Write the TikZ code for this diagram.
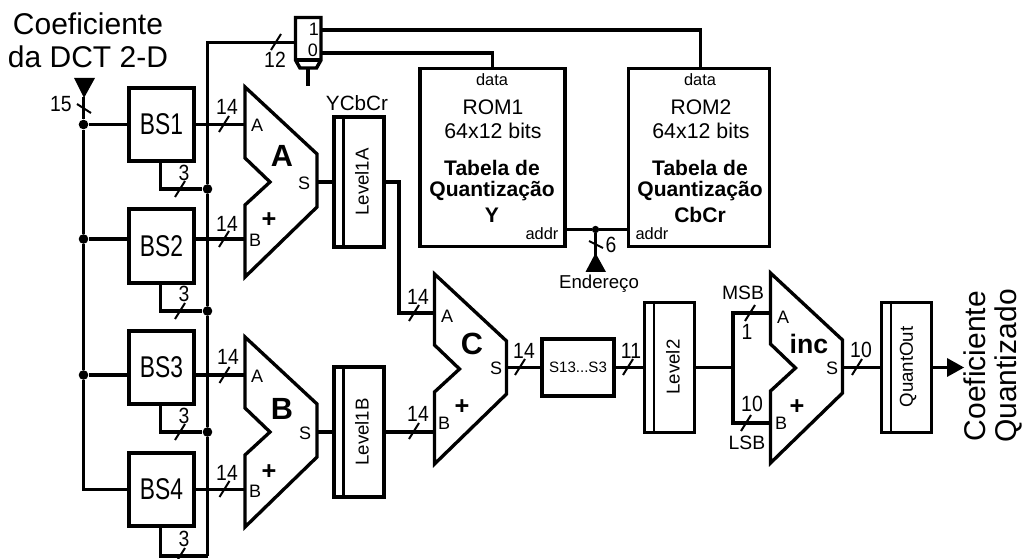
\documentclass[tikz,border=0pt]{standalone}
\usepackage{fontspec}
\setmainfont{Liberation Sans}
\newcommand{\fsz}[1]{\fontsize{#1}{#1}\selectfont}
\newcommand{\nar}[2][.88]{\scalebox{#1}[1]{#2}}
\tikzset{
  wire/.style={line width=2.4pt,line join=miter},
  thick wire/.style={line width=2.5pt},
  boxnode/.style={draw,line width=2.6pt,rectangle,inner sep=0pt,align=center,font=\fsz{17.2}},
  regnode/.style={draw,line width=2.5pt,rectangle,inner sep=0pt},
  regtext/.style={rotate=90,inner sep=0pt,font=\fsz{14}},
  lbl/.style={inner sep=0pt,font=\fsz{14.5}},
  num/.style={inner sep=0pt,font=\fsz{16.5}},
  port/.style={inner sep=0pt,font=\fsz{13.5}},
  dotnode/.style={circle,fill=black,draw=none,minimum size=7.2pt,inner sep=0pt},
  bigbold/.style={inner sep=0pt,font=\fsz{23}\bfseries},
  plusmark/.style={inner sep=0pt,font=\fsz{19}\bfseries},
  arrowhead/.style={fill=black,draw=none},
  adder/.pic={
    \draw[line width=2.5pt,miter limit=10] (0,0) -- (72,67) -- (72,120) -- (0,190) -- (0,118) -- (25,95) -- (0,71) -- cycle;
    \coordinate (-W) at (0,0);
    \coordinate (-E) at (72,0);
  },
  bustick/.pic={
    \draw[line width=1.5pt] (-5,8) -- (5,-8);
  }
}
\begin{document}
\begin{tikzpicture}[x=0.75pt,y=-0.75pt]
\useasboundingbox (0,0) rectangle (1024,559);

% barrel shifters
\node[boxnode,minimum width=48.75pt,minimum height=54.75pt,font=\fsz{22.5}] (bs1) at (161.5,124.5) {\nar[.76]{BS1}};
\node[boxnode,minimum width=48.75pt,minimum height=55.5pt,font=\fsz{22.5}] (bs2) at (161.5,246) {\nar[.76]{BS2}};
\node[boxnode,minimum width=48.75pt,minimum height=54.75pt,font=\fsz{22.5}] (bs3) at (161.5,367.5) {\nar[.76]{BS3}};
\node[boxnode,minimum width=48.75pt,minimum height=54.75pt,font=\fsz{22.5}] (bs4) at (161.5,489.5) {\nar[.76]{BS4}};

% adders
\pic (adA) at (245,87) {adder};
\pic (adB) at (245,337) {adder};
\pic (adC) at (434.5,274) {adder};
\pic (adI) at (770.5,273) {adder};

% registers
\node[regnode,minimum width=37.5pt,minimum height=97.5pt] (l1a) at (359,182) {};
\node[regnode,minimum width=37.5pt,minimum height=97.5pt] (l1b) at (359,432) {};
\node[regnode,minimum width=37.5pt,minimum height=97.5pt] (l2) at (669.5,367.5) {};
\node[regnode,minimum width=37.5pt,minimum height=97.5pt] (qo) at (906.5,367.5) {};
\foreach \r in {l1a,l1b,l2,qo}
  \draw[line width=2pt] ([xshift=8.4pt]\r.north west) -- ([xshift=8.4pt]\r.south west);
\node[regtext] (t1a) at (362,182) {Level1A};
\node[regtext] (t1b) at (362,432) {Level1B};
\node[regtext] (t2) at (673,367) {Level2};
\node[regtext] (tqo) at (908,367) {QuantOut};
\node[lbl,font=\fsz{15.5}] (ycbcr) at (357,103) {YCbCr};

% ROMs
\node[boxnode,minimum width=108.5pt,minimum height=133.5pt] (rom1) at (492.5,157.5) {};
\node[boxnode,minimum width=106pt,minimum height=133.5pt] (rom2) at (699,157.5) {};
\node[lbl,font=\fsz{12.3}] (d1) at (492,80) {data};
\node[lbl,font=\fsz{12.3}] (d2) at (700,80) {data};
\node[lbl,font=\fsz{15.8}] (r1a) at (493,107) {ROM1};
\node[lbl,font=\fsz{15.8}] (r2a) at (701,107) {ROM2};
\node[lbl,font=\fsz{16}] (r1b) at (493,131) {64x12 bits};
\node[lbl,font=\fsz{16}] (r2b) at (701,131) {64x12 bits};
\node[lbl,font=\fsz{15.8}\bfseries,align=center] (r1c) at (492,168) {Tabela de};
\node[lbl,font=\fsz{15.8}\bfseries] (r1d) at (492,191) {Quantização};
\node[lbl,font=\fsz{15.8}\bfseries] (r1e) at (492,215) {Y};
\node[lbl,font=\fsz{15.8}\bfseries] (r2c) at (700,168) {Tabela de};
\node[lbl,font=\fsz{15.8}\bfseries] (r2d) at (700,191) {Quantização};
\node[lbl,font=\fsz{15.8}\bfseries] (r2e) at (700,215) {CbCr};
\node[lbl,font=\fsz{12.3}] (a1) at (542,234) {addr};
\node[lbl,font=\fsz{12.3}] (a2) at (652,234) {addr};

% S13...S3
\node[boxnode,minimum width=54pt,minimum height=42.75pt,font=\fsz{11.3}] (sh) at (578,367.5) {S13...S3};

% mux
\coordinate (muxo1) at (322,30);
\coordinate (muxo0) at (322,53);
\coordinate (muxsel) at (308,86);
\draw[line width=2.6pt,miter limit=10] (295.5,17.5) -- (321,17.5) -- (321,60) -- (316.5,68) -- (300,68) -- (295.5,60) -- cycle;
\draw[line width=2.4pt] (295.5,60) -- (321,60);
\draw[line width=3pt] (308,68) -- (muxsel);
\node[port] (m1) at (314,29) {1};
\node[port] (m0) at (313,50) {0};

% main wiring
\coordinate (inTop) at (83.5,97);
\node[dotnode] (j1) at (83.5,124.5) {};
\node[dotnode] (j2) at (83.5,239) {};
\node[dotnode] (j3) at (83.5,375) {};
\coordinate (inBot) at (83.5,489.5);
\draw[wire] (inTop) -- (j1) -- (j2) -- (j3) -- (inBot) -- (bs4.west);
\draw[thick wire] (j1) -- (bs1.west);
\draw[thick wire] (j2) -- (j2 -| bs2.west);
\draw[thick wire] (j3) -- (j3 -| bs3.west);
\draw[arrowhead] (74,78) -- (95,78) -- (84,98) -- cycle;

% sign bus
\coordinate (sTop) at (207.5,42.5);
\coordinate (sBot) at (207.5,556);
\node[dotnode] (s1) at (207.5,189) {};
\node[dotnode] (s2) at (207.5,311) {};
\node[dotnode] (s3) at (207.5,432) {};
\draw[wire] (295.5,42.5) -- (sTop) -- (s1) -- (s2) -- (s3) -- (sBot);
\draw[wire] (160.5,161) -- (160.5,189) -- (s1);
\draw[wire] (160.5,283) -- (160.5,311) -- (s2);
\draw[wire] (160.5,404) -- (160.5,432) -- (s3);
\draw[wire] (160.5,526) -- (160.5,556) -- (sBot);

% BS to adder
\draw[wire] (bs1.east) -- (bs1.east -| adA-W);
\draw[wire] (bs2.east |- j2) -- (j2 -| adA-W);
\draw[wire] (bs3.east |- j3) -- (j3 -| adB-W);
\draw[wire] (bs4.east) -- (bs4.east -| adB-W);

% adder A,B to registers
\draw[wire] (adA-E |- l1a.west) -- (l1a.west);
\draw[wire] (adB-E |- l1b.west) -- (l1b.west);
\draw[wire] (l1a.east) -- (399,182) -- (399,313) -- (adC-W |- 0,313);
\draw[wire] (l1b.east) -- (l1b.east -| adC-W);
\draw[wire] (adC-E |- sh.west) -- (sh.west);
\draw[wire] (sh.east) -- (l2.west);
\draw[wire] (l2.east) -- (733,367.5);
\draw[wire] (adI-W |- 0,313) -- (733,313) -- (733,423) -- (adI-W |- 0,423);
\draw[wire] (adI-E |- qo.west) -- (qo.west);
\draw[wire] (qo.east) -- (948,367.5);
\draw[arrowhead] (947,358) -- (964,367.5) -- (947,377) -- cycle;

% mux to ROM
\draw[thick wire] (muxo1) -- (700.5,30) -- (700.5,68);
\draw[wire] (muxo0) -- (492.5,53) -- (rom1.north);

% address
\node[dotnode,minimum size=5.5pt] (ja) at (595.5,229.5) {};
\draw[wire] (rom1.east |- ja) -- (ja) -- (rom2.west |- ja);
\draw[wire] (ja) -- (595.5,258);
\draw[arrowhead] (595.5,253) -- (606,272) -- (585.5,272) -- cycle;
\draw[line width=1.5pt] (589,241) -- (603,248);
\node[num] (n6) at (611,245) {\nar{6}};
\node[lbl,font=\fsz{14}] (end) at (599,284) {Endereço};

% tick marks
\foreach \x/\y in {276/42,224/124,224/239,224.5/375,224.5/489,180/189,180/311,180/432,180/556,414/313,414/431,520/367,628/367,857/367,746/423,750/313}
  \pic at (\x,\y) {bustick};
\draw[line width=1.5pt] (77,104) -- (91,113);

% width labels
\node[num] (w15) at (61,104) {\nar{15}};
\node[num] (w12) at (275,60) {\nar{12}};
\foreach \x/\y/\t in {227/107/14,227/224/14,228/357/14,227/473/14,184/173/3,184/294/3,184/416/3,184/539/3,418/297/14,418/414/14,524/351/14,631/351/11,861/350/10,747/332/1,752/404/10}
  \node[num] at (\x,\y) {\nar{\t}};
\node[lbl] (msb) at (743,293) {MSB};
\node[lbl] (lsb) at (747,443) {LSB};

% adder labels
\node[port] (pAa) at (257,125) {A};
\node[port] (pAb) at (255,240) {B};
\node[port] (pAs) at (304,183) {S};
\node[bigbold] (bA) at (282,156) {A};
\node[plusmark] (plA) at (269,220) {+};
\node[port] (pBa) at (257,376) {A};
\node[port] (pBb) at (255,491) {B};
\node[port] (pBs) at (305,433) {S};
\node[bigbold] (bB) at (282,409) {B};
\node[plusmark] (plB) at (269,472) {+};
\node[port] (pCa) at (447,316) {A};
\node[port] (pCb) at (444,423) {B};
\node[port] (pCs) at (496,368) {S};
\node[bigbold] (bC) at (472,344) {C};
\node[plusmark] (plC) at (462,407) {+};
\node[port] (pIa) at (783,317) {A};
\node[port] (pIb) at (781,423) {B};
\node[port] (pIs) at (832,368) {S};
\node[bigbold,font=\fsz{20}\bfseries] (bI) at (809,344) {inc};
\node[plusmark] (plI) at (797,407) {+};

% titles
\node[lbl,font=\fsz{22.5}] (ti1) at (88,24) {Coeficiente};
\node[lbl,font=\fsz{22.5}] (ti2) at (88,57) {da DCT 2-D};
\node[lbl,font=\fsz{22.5},rotate=90] (to1) at (975,366) {Coeficiente};
\node[lbl,font=\fsz{22.5},rotate=90] (to2) at (1008,366) {Quantizado};
\end{tikzpicture}
\end{document}
